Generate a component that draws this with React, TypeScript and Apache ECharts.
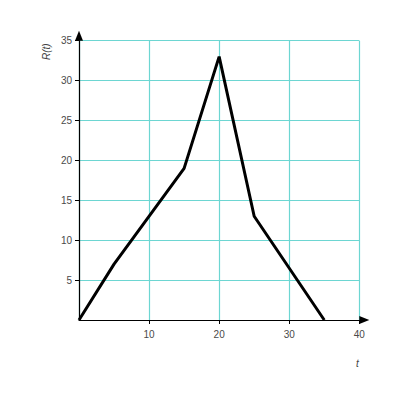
import React, { useEffect, useRef } from 'react';
import * as echarts from 'echarts';

const tValues = [0, 5, 15, 20, 25, 35];
const rValues = [0, 7, 19, 33, 13, 0];

const App: React.FC = () => {
  const chartRef = useRef<HTMLDivElement>(null);

  useEffect(() => {
    if (!chartRef.current) return;
    const chart = echarts.init(chartRef.current, undefined, { renderer: 'svg' });

    const axisCommon = {
      axisLine: {
        show: true,
        onZero: false,
        symbol: ['none', 'triangle'],
        symbolSize: [8, 10],
        symbolOffset: [0, 5],
        lineStyle: { color: '#000', width: 1.2 },
      },
      axisTick: { show: true, length: 4, lineStyle: { color: '#000' } },
      splitLine: { show: true, lineStyle: { color: '#6dd6d2', width: 1.2 } },
      axisLabel: {
        color: '#4a4a4a',
        fontSize: 10,
        fontFamily: 'Liberation Sans, Arial, sans-serif',
        showMinLabel: false,
      },
    };

    const option: echarts.EChartsOption = {
      animation: false,
      grid: { left: 71, right: 48.7, top: 32.7, bottom: 88 },
      xAxis: {
        type: 'value',
        min: 0,
        max: 40,
        interval: 10,
        ...axisCommon,
        axisLabel: { ...axisCommon.axisLabel, margin: 9 },
      },
      yAxis: {
        type: 'value',
        min: 0,
        max: 35,
        interval: 5,
        ...axisCommon,
        axisLabel: { ...axisCommon.axisLabel, margin: 7 },
      },
      graphic: [
        {
          type: 'text',
          x: 38.7,
          y: 43.7,
          rotation: Math.PI / 2,
          style: {
            text: 'R(t)',
            fontSize: 10,
            fontStyle: 'italic',
            fontFamily: 'Liberation Sans, Arial, sans-serif',
            fill: '#444',
            align: 'center',
            verticalAlign: 'middle',
          },
        },
        {
          type: 'text',
          x: 349.3,
          y: 355,
          style: {
            text: 't',
            fontSize: 10,
            fontStyle: 'italic',
            fontFamily: 'Liberation Sans, Arial, sans-serif',
            fill: '#444',
            align: 'center',
            verticalAlign: 'middle',
          },
        },
      ],
      series: [
        {
          type: 'line',
          data: tValues.map((t, i) => [t, rValues[i]]),
          symbol: 'none',
          lineStyle: { color: '#000', width: 3 },
        },
      ],
    };

    chart.setOption(option);
    return () => {
      chart.dispose();
    };
  }, []);

  return <div ref={chartRef} style={{ width: '400px', height: '400px' }} />;
};

export default App;
